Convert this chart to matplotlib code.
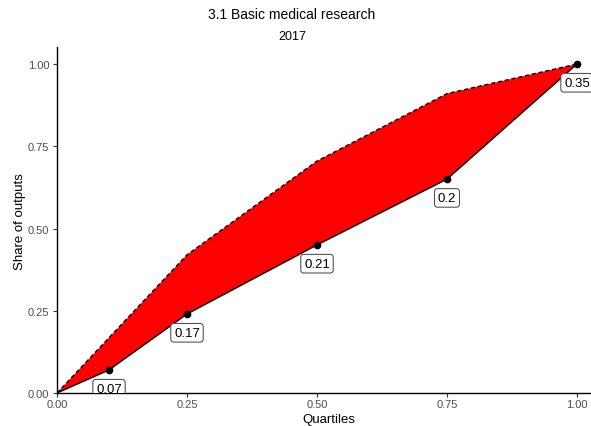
import numpy as np
import matplotlib
matplotlib.use("Agg")
import matplotlib.pyplot as plt

plt.rcParams['font.family'] = ['Liberation Sans', 'DejaVu Sans']

# Quartile positions and the share of outputs in each step
quartile_x = [0.0, 0.1, 0.25, 0.5, 0.75, 1.0]
shares = [0.07, 0.17, 0.21, 0.2, 0.35]
# Reference (dashed) curve
ref_x = [0.0, 0.25, 0.5, 0.75, 1.0]
ref_y = [0.0, 0.42, 0.705, 0.91, 1.0]

ticks = [0.0, 0.25, 0.5, 0.75, 1.0]
tick_labels = ["0.00", "0.25", "0.50", "0.75", "1.00"]

title = "3.1 Basic medical research"
subtitle = "2017"
xlabel = "Quartiles"
ylabel = "Share of outputs"

cum_y = np.concatenate([[0.0], np.cumsum(shares)])

W, H = 591, 427
fig = plt.figure(figsize=(W / 100, H / 100), dpi=100)
ax = fig.add_axes([57 / W, (H - 394) / H, (W - 57) / W, (394 - 48) / H])

# Filled region between the dashed curve and the cumulative line
poly_x = np.concatenate([ref_x, np.array(quartile_x)[::-1]])
poly_y = np.concatenate([ref_y, cum_y[::-1]])
ax.fill(poly_x, poly_y, color="#FF0000", lw=0, zorder=1)

ax.plot(ref_x, ref_y, color="black", lw=1.0, ls=(0, (3, 2)), zorder=2)
ax.plot(quartile_x, cum_y, color="black", lw=1.0, zorder=2)
ax.plot(quartile_x[1:], cum_y[1:], "o", color="black", ms=4.5, zorder=3)

for x, y, s in zip(quartile_x[1:], cum_y[1:], shares):
    ax.annotate(f"{s:g}", xy=(x, y), xytext=(0, -13.5), textcoords="offset points",
                ha="center", va="center", fontsize=9.5, color="black",
                bbox=dict(boxstyle="round,pad=0.25,rounding_size=0.25",
                          fc="white", ec="#555555", lw=0.8),
                zorder=4, clip_on=True)

ax.set_xlim(0, (W - 57) / 520)
ax.set_ylim(0, 1 + (65 - 48) / 329)
ax.set_xticks(ticks)
ax.set_xticklabels(tick_labels)
ax.set_yticks(ticks)
ax.set_yticklabels(tick_labels)
ax.tick_params(axis="both", length=3, width=0.8, color="#333333",
               labelsize=8, labelcolor="#4D4D4D", pad=1.5)
ax.tick_params(axis="y", pad=2.5)

for side in ["top", "right"]:
    ax.spines[side].set_visible(False)
for side in ["left", "bottom"]:
    ax.spines[side].set_linewidth(1.0)
    ax.spines[side].set_color("black")

fig.text(292 / W, 1 - 15 / H, title, ha="center", va="center", fontsize=10)
fig.text(292 / W, 1 - 37 / H, subtitle, ha="center", va="center", fontsize=9)
fig.text(329 / W, 1 - 423.5 / H, xlabel, ha="center", va="baseline", fontsize=9.5)
fig.text(20 / W, 1 - 222 / H, ylabel, ha="center", va="center", fontsize=9.5,
         rotation=90)

fig.savefig("out.png", dpi=100)
